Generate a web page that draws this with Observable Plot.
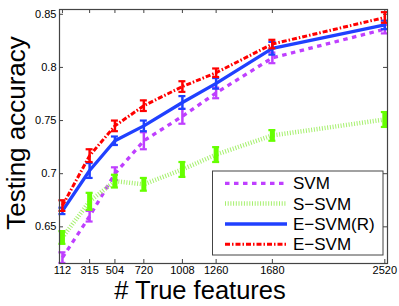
<!DOCTYPE html>
<html><head><meta charset="utf-8">
<script src="https://cdn.jsdelivr.net/npm/d3@7"></script>
<script src="https://cdn.jsdelivr.net/npm/@observablehq/plot@0.6"></script>
<style>body{margin:0;background:#fff}#chart{width:399px;height:306px}</style>
</head><body><div id="chart"></div>
<script>
const features = [112, 315, 504, 720, 1008, 1260, 1680, 2520];
const yTicks = [0.65, 0.7, 0.75, 0.8, 0.85];
const seriesNames = ["SVM", "S\u2212SVM", "E\u2212SVM(R)", "E\u2212SVM"];
const svmAcc  = [0.621, 0.660, 0.700, 0.731, 0.754, 0.776, 0.809, 0.836];
const svmErr  = [0.005, 0.005, 0.006, 0.008, 0.007, 0.005, 0.005, 0.004];
const ssvmAcc = [0.640, 0.674, 0.693, 0.690, 0.704, 0.718, 0.736, 0.751];
const ssvmErr = [0.006, 0.008, 0.006, 0.006, 0.007, 0.007, 0.005, 0.007];
const esvmrAcc = [0.665, 0.703, 0.731, 0.745, 0.767, 0.785, 0.818, 0.840];
const esvmrErr = [0.003, 0.007, 0.004, 0.005, 0.006, 0.005, 0.006, 0.004];
const esvmAcc = [0.670, 0.717, 0.745, 0.764, 0.782, 0.795, 0.822, 0.847];
const esvmErr = [0.005, 0.006, 0.005, 0.005, 0.005, 0.004, 0.004, 0.005];

const styles = [
  {line: "#bf3fff", bar: "#bf3fff", w: 3.3, dash: "4.5,4.5", barW: 2.5},
  {line: "#a6f06e", bar: "#66ff00", w: 4.5, dash: "1,1.7", barW: 5},
  {line: "#2040ff", bar: "#2040ff", w: 3.3, dash: null, barW: 2.5},
  {line: "#ff0000", bar: "#ff0000", w: 3, dash: "5,2,1.5,2", barW: 2.5}
];
const accs = [svmAcc, ssvmAcc, esvmrAcc, esvmAcc];
const errs = [svmErr, ssvmErr, esvmrErr, esvmErr];

const W = 399, H = 306, mL = 59, mR = 12, mT = 9, mB = 43;
const innerW = W - mL - mR, innerH = H - mT - mB;

const marks = [];
accs.forEach((acc, s) => {
  const st = styles[s];
  const data = features.map((f, i) => ({x: f, y: acc[i], lo: acc[i] - errs[s][i], hi: acc[i] + errs[s][i]}));
  marks.push(Plot.line(data, {x: "x", y: "y", stroke: st.line, strokeWidth: st.w, strokeDasharray: st.dash, strokeLinecap: "butt"}));
  marks.push(Plot.ruleX(data, {x: "x", y1: "lo", y2: "hi", stroke: st.bar, strokeWidth: st.barW}));
  marks.push(Plot.ruleY(data, {x1: "x", x2: "x", y: "lo", insetLeft: -3.5, insetRight: -3.5, stroke: st.bar, strokeWidth: 2.2}));
  marks.push(Plot.ruleY(data, {x1: "x", x2: "x", y: "hi", insetLeft: -3.5, insetRight: -3.5, stroke: st.bar, strokeWidth: 2.2}));
});

const chart = Plot.plot({
  width: W, height: H,
  marginLeft: mL, marginRight: mR, marginTop: mT, marginBottom: mB,
  style: {fontFamily: "'Liberation Sans', Arial, sans-serif", fontSize: "11px", color: "#000", background: "#fff", overflow: "visible"},
  x: {type: "linear", domain: [90, 2540], ticks: features, tickFormat: d => String(d), tickSize: 0, tickPadding: 3, label: null},
  y: {domain: [0.6155, 0.8545], ticks: yTicks, tickFormat: d => String(d), tickSize: 0, tickPadding: 3, label: null},
  marks: [
    Plot.tickX(features, {x: d => d, insetTop: innerH - 4, stroke: "#444"}),
    Plot.tickX(features, {x: d => d, insetBottom: innerH - 4, stroke: "#444"}),
    Plot.tickY(yTicks, {y: d => d, insetRight: innerW - 4, stroke: "#444"}),
    Plot.tickY(yTicks, {y: d => d, insetLeft: innerW - 4, stroke: "#444"}),
    ...marks,
    Plot.frame({stroke: "#444", strokeWidth: 1.2})
  ]
});
document.getElementById("chart").appendChild(chart);

const svg = d3.select(chart);
svg.append("text").attr("x", 200).attr("y", 299).attr("text-anchor", "middle")
  .attr("font-size", 25.5).attr("fill", "#000").text("# True features");
svg.append("text").attr("transform", "translate(25,133) rotate(-90)").attr("text-anchor", "middle")
  .attr("font-size", 26).attr("fill", "#000").text("Testing accuracy");

const lg = svg.append("g").attr("text-anchor", "start");
lg.append("rect").attr("x", 212.5).attr("y", 171).attr("width", 170.5).attr("height", 84)
  .attr("fill", "#fff").attr("stroke", "#444").attr("stroke-width", 1);
const rowsY = [183.3, 203.6, 224, 244.3];
seriesNames.forEach((name, s) => {
  const st = styles[s];
  lg.append("line").attr("x1", 225).attr("x2", 287).attr("y1", rowsY[s]).attr("y2", rowsY[s])
    .attr("stroke", st.line).attr("stroke-width", st.w)
    .attr("stroke-dasharray", st.dash || null);
  lg.append("text").attr("x", 293).attr("y", rowsY[s]).attr("dy", "0.36em").attr("text-anchor", "start")
    .attr("font-size", 17).attr("fill", "#000").text(name);
});
</script>
</body></html>
